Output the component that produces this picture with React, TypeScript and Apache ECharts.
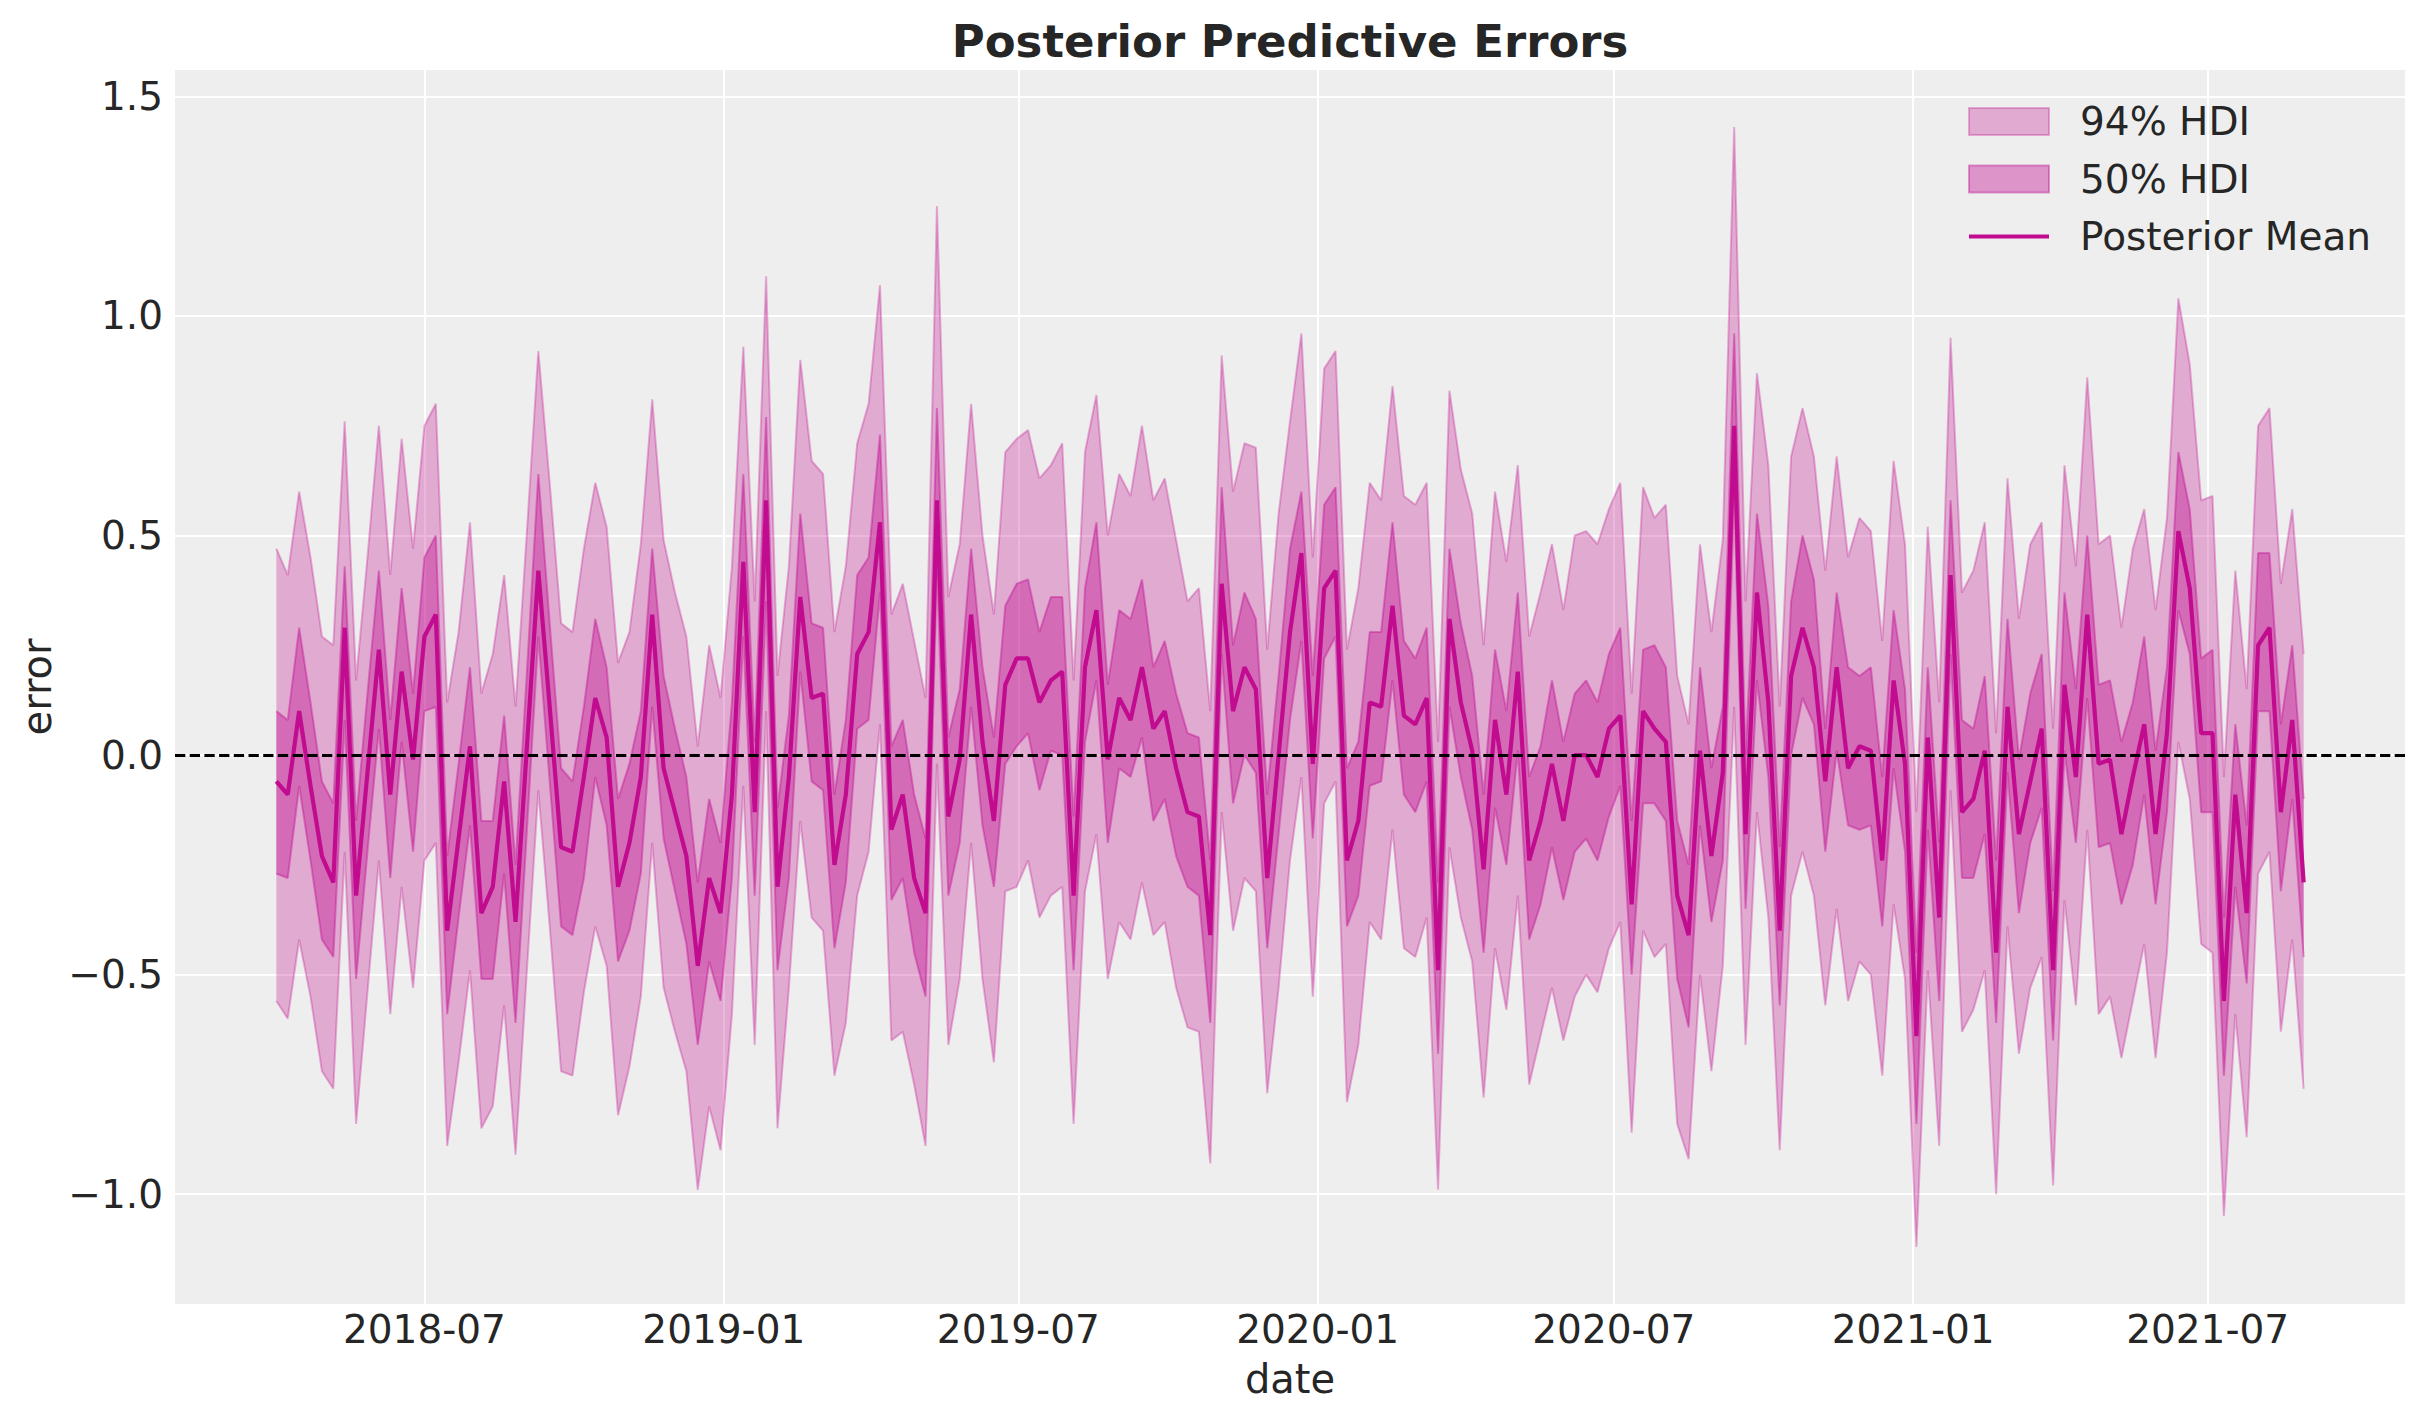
import React, { useEffect, useRef } from "react";
import * as echarts from "echarts";

// weekly observations starting 2018-04-01
const START_DATE = "2018-04-01";

const posteriorMean = [
  -0.06, -0.09, 0.10, -0.07, -0.23, -0.29, 0.29, -0.32, -0.04, 0.24,
  -0.09, 0.19, -0.01, 0.27, 0.32, -0.40, -0.19, 0.02, -0.36, -0.30,
  -0.06, -0.38, 0.02, 0.42, 0.11, -0.21, -0.22, -0.05, 0.13, 0.04,
  -0.30, -0.20, -0.05, 0.32, -0.03, -0.13, -0.23, -0.48, -0.28, -0.36,
  -0.09, 0.44, -0.13, 0.58, -0.30, -0.05, 0.36, 0.13, 0.14, -0.25,
  -0.09, 0.23, 0.28, 0.53, -0.17, -0.09, -0.28, -0.36, 0.58, -0.14,
  -0.01, 0.32, 0.03, -0.15, 0.16, 0.22, 0.22, 0.12, 0.17, 0.19,
  -0.32, 0.20, 0.33, -0.01, 0.13, 0.08, 0.20, 0.06, 0.10, -0.03,
  -0.13, -0.14, -0.41, 0.39, 0.10, 0.20, 0.15, -0.28, 0.00, 0.28,
  0.46, -0.02, 0.38, 0.42, -0.24, -0.15, 0.12, 0.11, 0.34, 0.09,
  0.07, 0.13, -0.49, 0.31, 0.12, 0.01, -0.26, 0.08, -0.09, 0.19,
  -0.24, -0.15, -0.02, -0.15, 0.00, 0.00, -0.05, 0.06, 0.09, -0.34,
  0.10, 0.06, 0.03, -0.32, -0.41, 0.01, -0.23, -0.04, 0.75, -0.18,
  0.37, 0.12, -0.40, 0.18, 0.29, 0.20, -0.06, 0.20, -0.03, 0.02,
  0.01, -0.24, 0.17, -0.02, -0.64, 0.04, -0.37, 0.41, -0.13, -0.10,
  0.01, -0.45, 0.11, -0.18, -0.06, 0.06, -0.49, 0.16, -0.05, 0.32,
  -0.02, -0.01, -0.18, -0.05, 0.07, -0.18, 0.05, 0.51, 0.38, 0.05,
  0.05, -0.56, -0.09, -0.36, 0.25, 0.29, -0.13, 0.08, -0.29,
];

const hdi50Low = [
  -0.27, -0.28, -0.07, -0.24, -0.42, -0.46, 0.08, -0.51, -0.22, 0.06,
  -0.28, 0.03, -0.22, 0.10, 0.11, -0.59, -0.37, -0.16, -0.51, -0.51,
  -0.27, -0.61, -0.17, 0.27, -0.06, -0.39, -0.41, -0.28, -0.05, -0.16,
  -0.47, -0.40, -0.27, 0.11, -0.19, -0.31, -0.43, -0.66, -0.47, -0.56,
  -0.28, 0.27, -0.32, 0.35, -0.49, -0.28, 0.19, -0.06, -0.08, -0.44,
  -0.29, 0.06, 0.08, 0.37, -0.33, -0.28, -0.45, -0.55, 0.42, -0.32,
  -0.20, 0.11, -0.16, -0.30, -0.02, 0.02, 0.05, -0.08, 0.01, 0.00,
  -0.49, 0.03, 0.17, -0.20, -0.03, -0.05, 0.04, -0.15, -0.10, -0.23,
  -0.30, -0.32, -0.61, 0.23, -0.11, 0.00, -0.04, -0.44, -0.18, 0.08,
  0.26, -0.19, 0.22, 0.27, -0.39, -0.32, -0.07, -0.06, 0.17, -0.09,
  -0.13, -0.06, -0.68, 0.11, -0.05, -0.17, -0.45, -0.12, -0.25, 0.01,
  -0.42, -0.34, -0.21, -0.33, -0.22, -0.19, -0.24, -0.14, -0.07, -0.50,
  -0.11, -0.11, -0.15, -0.51, -0.62, -0.16, -0.38, -0.24, 0.60, -0.35,
  0.17, -0.05, -0.57, 0.00, 0.13, 0.07, -0.22, 0.01, -0.16, -0.17,
  -0.16, -0.39, -0.03, -0.22, -0.84, -0.17, -0.56, 0.23, -0.28, -0.28,
  -0.18, -0.61, -0.04, -0.36, -0.20, -0.12, -0.65, 0.01, -0.20, 0.13,
  -0.21, -0.20, -0.34, -0.25, -0.09, -0.34, -0.13, 0.33, 0.23, -0.13,
  -0.13, -0.73, -0.30, -0.52, 0.10, 0.10, -0.31, -0.10, -0.46,
];

const hdi50High = [
  0.10, 0.08, 0.29, 0.12, -0.06, -0.11, 0.43, -0.15, 0.14, 0.42,
  0.08, 0.38, 0.14, 0.45, 0.50, -0.23, -0.02, 0.20, -0.15, -0.15,
  0.09, -0.25, 0.19, 0.64, 0.30, -0.03, -0.06, 0.11, 0.31, 0.20,
  -0.10, -0.02, 0.10, 0.47, 0.18, 0.06, -0.05, -0.29, -0.10, -0.20,
  0.12, 0.64, 0.03, 0.77, -0.12, 0.09, 0.55, 0.30, 0.29, -0.09,
  0.08, 0.41, 0.45, 0.73, 0.02, 0.08, -0.09, -0.19, 0.79, 0.04,
  0.15, 0.47, 0.20, 0.04, 0.34, 0.39, 0.40, 0.28, 0.36, 0.36,
  -0.14, 0.38, 0.53, 0.16, 0.33, 0.31, 0.40, 0.20, 0.26, 0.14,
  0.05, 0.04, -0.24, 0.61, 0.25, 0.37, 0.31, -0.09, 0.18, 0.47,
  0.60, 0.18, 0.57, 0.61, -0.03, 0.03, 0.28, 0.28, 0.53, 0.26,
  0.22, 0.29, -0.29, 0.47, 0.30, 0.18, -0.09, 0.24, 0.10, 0.37,
  -0.05, 0.02, 0.17, 0.03, 0.14, 0.17, 0.12, 0.23, 0.29, -0.15,
  0.24, 0.25, 0.20, -0.15, -0.25, 0.20, -0.03, 0.11, 0.96, 0.00,
  0.55, 0.34, -0.21, 0.35, 0.50, 0.40, 0.06, 0.37, 0.20, 0.18,
  0.20, -0.05, 0.33, 0.15, -0.45, 0.20, -0.20, 0.58, 0.08, 0.06,
  0.18, -0.24, 0.31, -0.01, 0.14, 0.23, -0.31, 0.37, 0.15, 0.50,
  0.16, 0.17, 0.03, 0.12, 0.27, 0.01, 0.20, 0.69, 0.56, 0.22,
  0.24, -0.37, 0.07, -0.16, 0.46, 0.46, 0.07, 0.25, -0.10,
];

const hdi94Low = [
  -0.56, -0.60, -0.42, -0.55, -0.72, -0.76, -0.22, -0.84, -0.54, -0.24,
  -0.59, -0.30, -0.53, -0.24, -0.20, -0.89, -0.70, -0.49, -0.85, -0.80,
  -0.57, -0.91, -0.49, -0.08, -0.39, -0.72, -0.73, -0.54, -0.39, -0.48,
  -0.82, -0.71, -0.55, -0.20, -0.53, -0.63, -0.72, -0.99, -0.80, -0.90,
  -0.59, -0.07, -0.66, 0.10, -0.85, -0.53, -0.15, -0.37, -0.40, -0.73,
  -0.61, -0.32, -0.22, 0.07, -0.65, -0.63, -0.75, -0.89, -0.02, -0.66,
  -0.51, -0.20, -0.51, -0.70, -0.31, -0.30, -0.24, -0.37, -0.32, -0.30,
  -0.84, -0.31, -0.18, -0.51, -0.38, -0.42, -0.29, -0.41, -0.38, -0.53,
  -0.62, -0.63, -0.93, -0.13, -0.40, -0.28, -0.31, -0.77, -0.53, -0.24,
  -0.05, -0.55, -0.11, -0.06, -0.79, -0.66, -0.38, -0.42, -0.17, -0.44,
  -0.46, -0.37, -0.99, -0.21, -0.37, -0.47, -0.78, -0.44, -0.58, -0.32,
  -0.75, -0.64, -0.53, -0.65, -0.55, -0.50, -0.54, -0.44, -0.38, -0.86,
  -0.40, -0.46, -0.43, -0.84, -0.92, -0.50, -0.72, -0.48, 0.11, -0.66,
  -0.13, -0.37, -0.90, -0.32, -0.22, -0.32, -0.57, -0.35, -0.56, -0.47,
  -0.50, -0.73, -0.34, -0.51, -1.12, -0.49, -0.89, -0.08, -0.63, -0.58,
  -0.49, -1.00, -0.39, -0.68, -0.53, -0.46, -0.98, -0.33, -0.57, -0.17,
  -0.59, -0.55, -0.69, -0.56, -0.43, -0.69, -0.45, 0.03, -0.10, -0.43,
  -0.45, -1.05, -0.59, -0.87, -0.27, -0.22, -0.63, -0.42, -0.76,
];

const hdi94High = [
  0.47, 0.41, 0.60, 0.45, 0.27, 0.25, 0.76, 0.17, 0.45, 0.75,
  0.41, 0.72, 0.47, 0.75, 0.80, 0.12, 0.28, 0.53, 0.14, 0.23,
  0.41, 0.11, 0.51, 0.92, 0.62, 0.30, 0.28, 0.47, 0.62, 0.52,
  0.21, 0.28, 0.48, 0.81, 0.49, 0.37, 0.27, 0.02, 0.25, 0.13,
  0.43, 0.93, 0.35, 1.09, 0.18, 0.43, 0.90, 0.67, 0.64, 0.28,
  0.43, 0.71, 0.80, 1.07, 0.32, 0.39, 0.26, 0.13, 1.25, 0.36,
  0.48, 0.80, 0.50, 0.32, 0.69, 0.72, 0.74, 0.63, 0.66, 0.71,
  0.17, 0.69, 0.82, 0.50, 0.64, 0.59, 0.75, 0.58, 0.63, 0.49,
  0.35, 0.38, 0.10, 0.91, 0.60, 0.71, 0.70, 0.24, 0.55, 0.76,
  0.96, 0.45, 0.88, 0.92, 0.24, 0.38, 0.62, 0.58, 0.84, 0.59,
  0.57, 0.62, 0.03, 0.83, 0.65, 0.55, 0.25, 0.60, 0.44, 0.66,
  0.27, 0.37, 0.48, 0.33, 0.50, 0.51, 0.48, 0.56, 0.62, 0.14,
  0.61, 0.54, 0.57, 0.18, 0.07, 0.48, 0.28, 0.49, 1.43, 0.35,
  0.87, 0.66, 0.11, 0.68, 0.79, 0.68, 0.42, 0.68, 0.45, 0.54,
  0.51, 0.26, 0.67, 0.48, -0.13, 0.52, 0.12, 0.95, 0.37, 0.42,
  0.53, 0.05, 0.63, 0.31, 0.48, 0.53, 0.06, 0.66, 0.43, 0.86,
  0.48, 0.50, 0.29, 0.47, 0.56, 0.33, 0.54, 1.04, 0.89, 0.58,
  0.59, -0.05, 0.42, 0.15, 0.75, 0.79, 0.39, 0.56, 0.23,
];

const yTickValues = [-1.0, -0.5, 0.0, 0.5, 1.0, 1.5];
const xTickLabels = ["2018-07", "2019-01", "2019-07", "2020-01", "2020-07", "2021-01", "2021-07"];

const BASE = "#c10c90";
const FILL94 = "rgba(193,12,144,0.3)";
const FILL50 = "rgba(193,12,144,0.4)";
const TEXT = "#262626";
const FONT = "DejaVu Sans";

const DAY = 86400000;
const WEEK = 7 * DAY;

function parseDate(s: string): number {
  const [y, m, d] = s.split("-").map(Number);
  return Date.UTC(y, m - 1, d || 1);
}

export default function App() {
  const ref = useRef<HTMLDivElement>(null);

  useEffect(() => {
    document.body.style.margin = "0";
    if (!ref.current) return;
    const chart = echarts.init(ref.current, undefined, { renderer: "svg" });

    const start = parseDate(START_DATE);
    const dates = posteriorMean.map((_, i) => start + i * WEEK);
    const first = dates[0];
    const last = dates[dates.length - 1];
    const margin = (last - first) * 0.05;

    const pair = (arr: number[]) => arr.map((v, i) => [dates[i], v]);
    const diff = (hi: number[], lo: number[]) => hi.map((v, i) => [dates[i], +(v - lo[i]).toFixed(4)]);

    const gridLines: any[] = [
      ...yTickValues.map((v) => ({ yAxis: v, label: { show: false } })),
      ...xTickLabels.map((t) => ({
        xAxis: parseDate(t),
        label: {
          show: true,
          position: "start",
          distance: 6,
          formatter: t,
          fontSize: 39,
          color: TEXT,
          fontFamily: FONT,
        },
      })),
    ];

    const option: any = {
      animation: false,
      backgroundColor: "#ffffff",
      title: {
        text: "Posterior Predictive Errors",
        left: 1290,
        textAlign: "center",
        top: 19,
        padding: 0,
        textStyle: { fontSize: 45, fontWeight: "bold", color: TEXT, fontFamily: FONT },
      },
      legend: {
        orient: "vertical",
        left: 1968,
        top: 102,
        padding: 0,
        itemWidth: 80,
        itemHeight: 27,
        itemGap: 18.5,
        textStyle: { fontSize: 39, color: TEXT, fontFamily: FONT, padding: [0, 0, 0, 26] },
        data: [
          { name: "94% HDI", icon: "rect", itemStyle: { color: FILL94, borderColor: FILL94, borderWidth: 2 } },
          { name: "50% HDI", icon: "rect", itemStyle: { color: FILL50, borderColor: FILL50, borderWidth: 2 } },
          {
            name: "Posterior Mean",
            icon: "path://M0,0 L80,0 L80,4.2 L0,4.2 Z",
            itemStyle: { color: BASE, borderWidth: 0 },
          },
        ],
      },
      grid: {
        left: 175,
        right: 18,
        top: 70,
        bottom: 119,
        show: true,
        backgroundColor: "#eeeeee",
        borderWidth: 0,
        containLabel: false,
        outerBoundsMode: "none",
      },
      xAxis: {
        type: "time",
        min: first - margin,
        max: last + margin,
        axisLine: { show: false },
        axisTick: { show: false },
        axisLabel: { show: false },
        splitLine: { show: false },
        name: "date",
        nameLocation: "middle",
        nameGap: 55,
        nameTextStyle: { fontSize: 40, color: TEXT, fontFamily: FONT },
      },
      yAxis: {
        type: "value",
        min: -1.25,
        max: 1.56,
        interval: 0.25,
        axisLine: { show: false },
        axisTick: { show: false },
        splitLine: { show: false },
        axisLabel: {
          fontSize: 39,
          color: TEXT,
          fontFamily: FONT,
          margin: 12,
          formatter: (v: number) => {
            if (!yTickValues.some((t) => Math.abs(t - v) < 1e-6)) return "";
            const s = Math.abs(v).toFixed(1);
            return v < -1e-9 ? "\u2212" + s : s;
          },
        },
        name: "error",
        nameLocation: "middle",
        nameGap: 112,
        nameTextStyle: { fontSize: 40, color: TEXT, fontFamily: FONT },
      },
      series: [
        {
          name: "94% HDI lower",
          type: "line",
          data: pair(hdi94Low),
          stack: "hdi94",
          stackStrategy: "all",
          symbol: "none",
          silent: true,
          lineStyle: { color: FILL94, width: 2 },
          z: 2,
          markLine: {
            silent: true,
            z: 1,
            symbol: ["none", "none"],
            lineStyle: { color: "#ffffff", width: 2, type: "solid" },
            label: { show: false },
            data: gridLines,
          },
        },
        {
          name: "94% HDI",
          type: "line",
          data: diff(hdi94High, hdi94Low),
          stack: "hdi94",
          stackStrategy: "all",
          symbol: "none",
          silent: true,
          lineStyle: { color: FILL94, width: 2 },
          itemStyle: { color: FILL94 },
          areaStyle: { color: FILL94, opacity: 1 },
          z: 2,
        },
        {
          name: "50% HDI lower",
          type: "line",
          data: pair(hdi50Low),
          stack: "hdi50",
          stackStrategy: "all",
          symbol: "none",
          silent: true,
          lineStyle: { color: FILL50, width: 2 },
          z: 2,
        },
        {
          name: "50% HDI",
          type: "line",
          data: diff(hdi50High, hdi50Low),
          stack: "hdi50",
          stackStrategy: "all",
          symbol: "none",
          silent: true,
          lineStyle: { color: FILL50, width: 2 },
          itemStyle: { color: FILL50 },
          areaStyle: { color: FILL50, opacity: 1 },
          z: 2,
        },
        {
          name: "Posterior Mean",
          type: "line",
          data: pair(posteriorMean),
          symbol: "none",
          silent: true,
          lineStyle: { color: BASE, width: 4.2 },
          itemStyle: { color: BASE },
          z: 4,
          markLine: {
            silent: true,
            z: 10,
            symbol: ["none", "none"],
            lineStyle: { color: "#000000", width: 2.8, type: [10.3, 4.4] },
            label: { show: false },
            data: [{ yAxis: 0 }],
          },
        },
      ],
    };

    chart.setOption(option);
    return () => chart.dispose();
  }, []);

  return <div ref={ref} style={{ width: 2423, height: 1423 }} />;
}
